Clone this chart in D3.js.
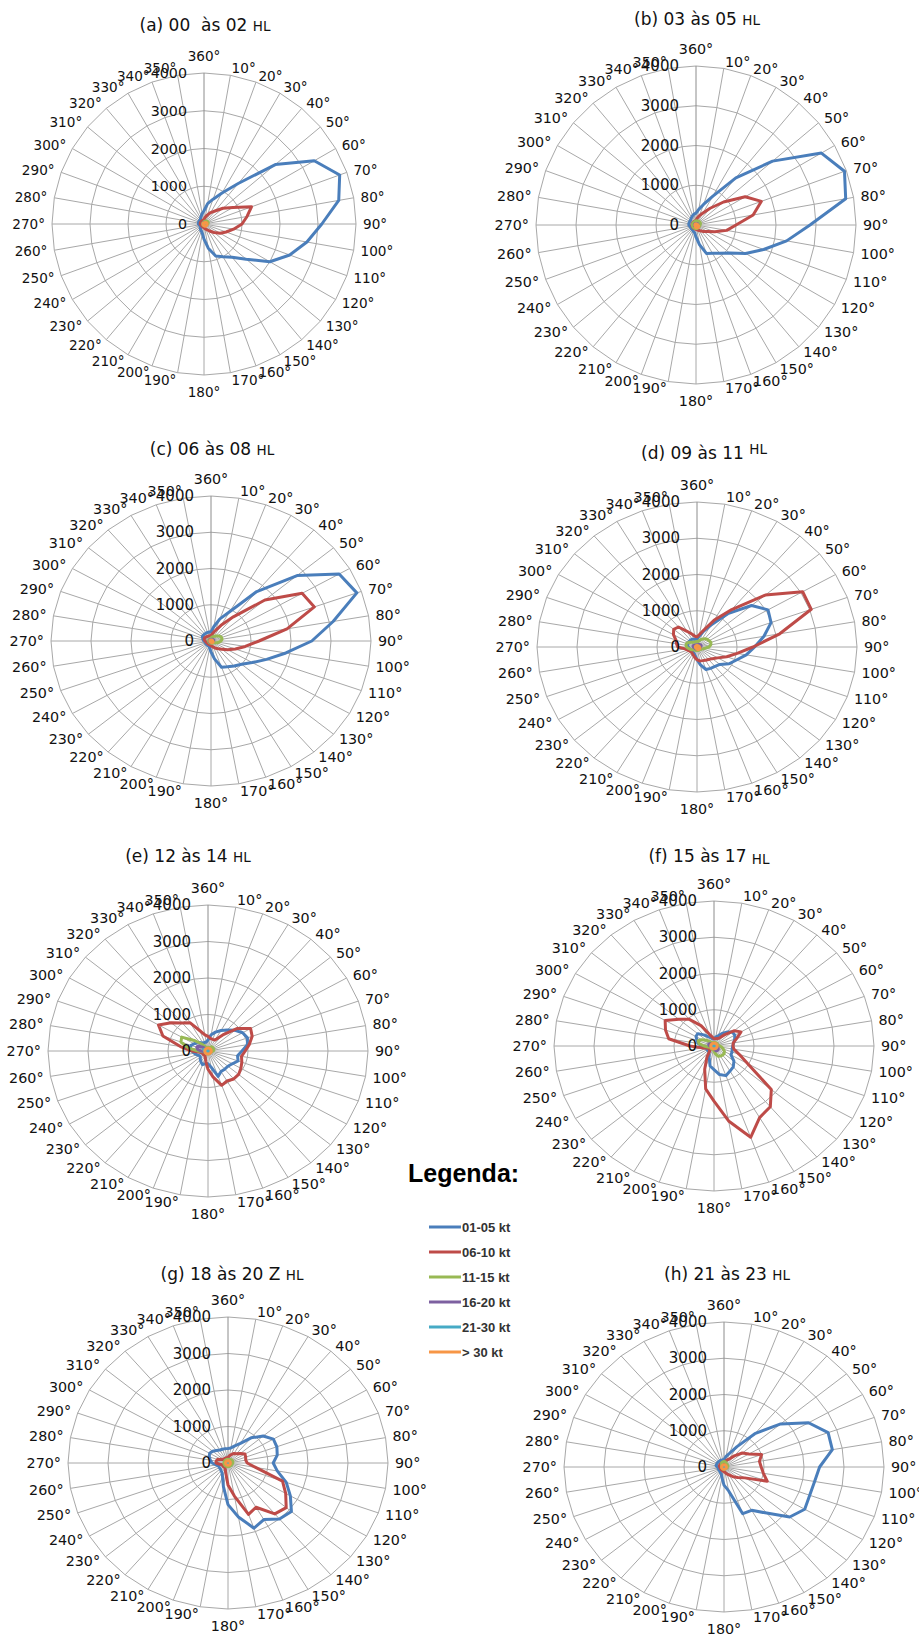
<!DOCTYPE html>
<html>
<head>
<meta charset="utf-8">
<script src="https://cdn.jsdelivr.net/npm/d3@7"></script>
<style>
  body { margin: 0; background: #fff; }
  svg text { font-family: "DejaVu Sans", Verdana, sans-serif; fill: #111; }
</style>
</head>
<body>
<svg id="chart"></svg>
<script>
//Categories, Ticks and Series Names
const directions = ["360°","10°","20°","30°","40°","50°","60°","70°","80°","90°","100°","110°",
  "120°","130°","140°","150°","160°","170°","180°","190°","200°","210°","220°","230°",
  "240°","250°","260°","270°","280°","290°","300°","310°","320°","330°","340°","350°"];
const radialTicks = [0, 1000, 2000, 3000, 4000];
const seriesNames = ["01-05 kt", "06-10 kt", "11-15 kt", "16-20 kt", "21-30 kt", "> 30 kt"];
const panelTitles = ["(a) 00\u00a0 às 02 ", "(b) 03 às 05 ", "(c) 06 às 08 ", "(d) 09 às 11 ",
  "(e) 12 às 14 ", "(f) 15 às 17 ", "(g) 18 às 20 Z ", "(h) 21 às 23 "];
const titleSuffix = "HL";

//Values per panel: [01-05, 06-10, 11-15, 16-20, 21-30, >30], one value per direction (360°, 10°, ... 350°)
const panelA = [
  [350,550,700,950,1400,2450,3350,3800,3600,3100,2750,2400,2000,1450,1150,1000,900,650,400,250,200,180,150,130,120,120,130,150,150,150,150,150,150,180,220,280],
  [120,180,250,350,450,650,880,1330,1150,1000,790,620,490,350,250,180,150,120,100,90,80,80,80,80,80,80,90,100,100,100,100,100,100,100,100,110],
  [60,70,80,90,100,110,120,120,110,100,80,60,50,40,40,40,40,40,40,40,40,40,40,40,40,40,40,40,40,40,40,40,40,40,40,50],
  [30,30,30,30,40,40,40,40,40,40,30,30,30,30,30,30,30,30,30,30,30,30,30,30,30,30,30,30,30,30,30,30,30,30,30,30],
  [20,20,20,20,20,30,30,30,30,30,20,20,20,20,20,20,20,20,20,20,20,20,20,20,20,20,20,20,20,20,20,20,20,20,20,20],
  [30,30,30,40,50,60,70,80,80,80,80,80,80,80,70,70,60,60,50,40,30,30,30,30,30,30,30,30,30,30,30,30,30,30,30,30]
];
const panelB = [
  [300,400,550,830,1550,2500,3620,3950,3800,2850,2300,1800,1430,1100,925,820,760,500,300,200,180,160,150,150,150,150,160,180,180,180,180,180,200,220,250,280],
  [120,180,250,350,550,900,1420,1740,1450,1000,780,500,330,250,200,160,140,120,110,100,100,100,100,100,100,100,100,100,100,100,100,100,100,100,100,110],
  [100,110,110,110,120,120,120,120,110,100,100,90,90,90,90,90,90,90,90,90,90,90,90,90,90,90,90,90,90,90,90,90,90,90,90,100],
  [40,40,40,40,50,50,50,50,50,40,40,40,40,40,40,40,40,40,40,40,40,40,40,40,40,40,40,40,40,40,40,40,40,40,40,40],
  [20,20,20,20,30,30,30,30,30,30,20,20,20,20,20,20,20,20,20,20,20,20,20,20,20,20,20,20,20,20,20,20,20,20,20,20],
  [30,30,30,30,30,30,40,40,40,50,60,70,80,80,80,80,80,70,70,60,50,40,30,30,30,30,30,30,30,30,30,30,30,30,30,30]
];
const panelC = [
  [250,400,650,930,1780,2810,3700,3880,3100,2520,1900,1480,1190,1000,900,820,770,500,300,200,150,150,150,150,150,150,150,180,200,220,250,250,250,250,250,250],
  [150,200,300,500,870,1760,2630,2750,1930,1200,870,650,480,350,280,230,180,150,130,120,110,110,110,110,110,120,130,150,170,180,180,170,160,150,150,150],
  [80,100,120,150,180,220,260,280,280,250,200,150,100,80,70,60,60,60,60,60,60,60,60,60,60,60,60,60,60,60,60,60,60,60,60,70],
  [40,40,50,50,60,60,70,70,70,60,50,40,40,40,40,40,40,40,40,40,40,40,40,40,40,40,40,40,40,40,40,40,40,40,40,40],
  [20,20,20,30,30,30,30,30,30,30,30,20,20,20,20,20,20,20,20,20,20,20,20,20,20,20,20,20,20,20,20,20,20,20,20,20],
  [30,30,30,30,30,40,40,40,40,40,50,60,60,60,60,50,50,40,40,30,30,30,30,30,30,30,30,30,30,30,30,30,30,30,30,30]
];
const panelD = [
  [220,300,450,700,1200,1780,2050,1970,1700,1440,1250,1050,925,750,700,680,660,500,350,250,200,180,170,170,170,180,200,220,250,250,250,250,250,250,230,220],
  [280,350,500,850,1350,2230,3050,3040,2100,1400,1020,790,600,500,450,420,400,390,350,300,250,220,200,200,220,250,300,480,520,560,680,760,720,500,380,300],
  [150,150,200,250,300,330,350,370,350,300,200,150,120,100,100,100,100,100,100,100,100,100,100,120,150,180,220,260,280,280,250,200,170,150,150,150],
  [60,60,70,80,90,100,110,110,100,90,80,70,60,60,60,60,60,60,60,60,60,60,60,60,60,70,80,90,100,100,90,80,70,60,60,60],
  [30,30,30,40,40,40,50,50,50,40,40,30,30,30,30,30,30,30,30,30,30,30,30,30,30,30,40,40,40,40,40,30,30,30,30,30],
  [40,40,40,40,40,40,50,50,60,60,70,80,80,80,80,80,70,70,60,50,40,40,40,40,40,40,40,40,40,40,40,40,40,40,40,40]
];
const panelE = [
  [300,450,550,650,750,880,1000,1050,1000,850,750,800,700,650,650,650,740,450,350,350,400,350,300,250,250,300,350,400,450,450,400,350,300,250,250,250],
  [400,350,340,350,575,960,1230,1175,1050,930,850,900,950,1000,1000,950,1000,720,500,300,200,150,150,150,150,150,200,400,700,1200,1430,1200,1000,890,590,450],
  [100,100,100,120,150,150,150,150,150,130,100,80,80,80,80,80,80,80,80,80,80,80,80,80,80,80,120,250,500,720,760,450,250,150,100,100],
  [40,40,40,40,40,50,50,50,50,40,40,40,40,40,40,40,40,40,40,40,40,40,40,40,40,60,100,180,260,300,280,150,80,50,40,40],
  [30,30,30,30,30,30,30,30,30,30,30,30,30,30,30,30,30,30,30,30,30,30,30,30,30,40,50,80,100,120,100,60,40,30,30,30],
  [80,80,80,80,80,80,80,80,80,80,80,80,80,80,80,80,80,80,80,80,80,80,80,80,80,80,80,80,80,80,80,80,80,80,80,80]
];
const panelF = [
  [200,250,300,400,500,600,600,550,500,470,460,480,490,650,750,800,870,800,650,560,350,250,200,200,200,200,250,300,400,450,520,530,400,300,250,200],
  [200,200,220,250,400,650,780,600,490,475,505,670,975,1870,2190,2280,2680,2100,1520,1200,680,350,150,150,150,150,300,600,1150,1290,1410,1145,960,650,350,250],
  [100,100,100,100,100,100,100,100,120,150,200,250,300,330,330,320,300,220,150,100,100,100,100,100,100,100,150,250,380,420,350,250,150,100,100,100],
  [40,40,40,40,40,40,40,40,50,60,80,100,120,140,150,150,140,100,60,40,40,40,40,40,40,40,60,100,130,140,130,100,60,40,40,40],
  [30,30,30,30,30,30,30,30,30,40,40,50,60,70,70,70,60,50,40,30,30,30,30,30,30,30,30,40,50,60,50,40,30,30,30,30],
  [80,80,80,80,80,80,80,80,80,80,80,80,80,80,80,80,80,80,80,80,80,80,80,80,80,80,80,80,80,80,80,80,80,80,80,80]
];
const panelG = [
  [400,420,500,620,900,1150,1310,1300,1250,1130,1250,1550,1800,2070,2000,1790,1900,1500,1140,660,400,300,270,250,250,250,300,400,450,500,530,500,450,410,400,400],
  [150,200,250,300,330,400,490,470,450,480,700,1450,1665,1900,1820,1400,1500,920,600,300,200,150,150,150,150,150,200,300,300,280,200,150,150,150,150,150],
  [100,100,100,110,120,130,130,130,120,120,110,110,100,100,100,100,100,100,100,100,100,100,100,100,100,100,100,100,100,100,100,100,100,100,100,100],
  [40,40,40,40,50,50,50,50,50,50,40,40,40,40,40,40,40,40,40,40,40,40,40,40,40,40,40,40,40,40,40,40,40,40,40,40],
  [20,20,20,20,20,20,20,20,20,20,20,20,20,20,20,20,20,20,20,20,20,20,20,20,20,20,20,20,20,20,20,20,20,20,20,20],
  [60,60,60,60,60,60,60,60,60,60,60,60,60,60,60,60,60,60,60,60,60,60,60,60,60,60,60,60,60,60,60,60,60,60,60,60]
];
const panelH = [
  [200,300,400,650,1200,1850,2440,2770,2750,2390,2300,2280,2330,2145,1660,1380,1370,670,500,300,200,180,160,150,150,150,150,170,200,200,200,200,200,200,200,200],
  [120,150,200,250,400,600,720,1000,900,930,1000,1150,600,450,350,250,200,150,130,120,110,100,100,100,100,100,100,110,120,120,120,120,120,120,120,120],
  [150,150,130,120,100,100,100,100,100,80,80,80,60,60,60,60,60,60,60,60,60,60,60,60,60,60,60,60,60,60,60,80,100,120,140,150],
  [40,40,40,40,40,40,40,40,40,40,40,40,40,40,40,40,40,40,40,40,40,40,40,40,40,40,40,40,40,40,40,40,40,40,40,40],
  [20,20,20,20,20,20,20,20,20,20,20,20,20,20,20,20,20,20,20,20,20,20,20,20,20,20,20,20,20,20,20,20,20,20,20,20],
  [60,60,60,60,60,60,60,60,60,60,60,60,60,60,60,60,60,60,60,60,60,60,60,60,60,60,60,60,60,60,60,60,60,60,60,60]
];
const panels = [panelA, panelB, panelC, panelD, panelE, panelF, panelG, panelH];

//Layout and Style (kept apart from the values)
const w = 919;
const h = 1637;
const colors = ["#4a7ebb", "#be4b48", "#98b954", "#7d60a0", "#46aac5", "#f79646"];
const panelLayout = [
  {cx: 204, cy: 224,  rx: 152, ry: 151, tx: 205, ty: 31,   hlDy: 0},
  {cx: 696, cy: 225,  rx: 160, ry: 159, tx: 697, ty: 25,   hlDy: 0},
  {cx: 211, cy: 641,  rx: 160, ry: 145, tx: 212, ty: 455,  hlDy: 0},
  {cx: 697, cy: 647,  rx: 160, ry: 145, tx: 704, ty: 459,  hlDy: -5},
  {cx: 208, cy: 1051, rx: 160, ry: 146, tx: 188, ty: 862,  hlDy: 0},
  {cx: 714, cy: 1046, rx: 160, ry: 145, tx: 709, ty: 862,  hlDy: 2},
  {cx: 228, cy: 1463, rx: 160, ry: 146, tx: 232, ty: 1280, hlDy: 0},
  {cx: 724, cy: 1467, rx: 160, ry: 145, tx: 727, ty: 1280, hlDy: 0}
];

const chart = d3.select("#chart")
  .attr("width", w)
  .attr("height", h);

const maxValue = d3.max(radialTicks);
const angle = d3.scaleLinear().domain([0, directions.length]).range([0, 2 * Math.PI]);

panels.forEach((panel, i) => {
  const L = panelLayout[i];
  const fs = L.rx / 160; //panel (a) is drawn a little smaller in the original
  const rX = d3.scaleLinear().domain([0, maxValue]).range([0, L.rx]);
  const rY = d3.scaleLinear().domain([0, maxValue]).range([0, L.ry]);
  const px = (k, v) => L.cx + rX(v) * Math.sin(angle(k));
  const py = (k, v) => L.cy - rY(v) * Math.cos(angle(k));
  const g = chart.append("g").attr("class", "radar");

  //Grid rings (polygons, as Excel draws them)
  const ringLine = d3.line().curve(d3.curveLinearClosed);
  g.selectAll(".ring")
    .data(radialTicks.filter(t => t > 0))
    .enter()
    .append("path")
    .attr("d", t => ringLine(directions.map((d, k) => [px(k, t), py(k, t)])))
    .attr("fill", "none")
    .attr("stroke", "#a8a8a8")
    .attr("stroke-width", 1);

  //Spokes
  g.selectAll(".spoke")
    .data(directions)
    .enter()
    .append("line")
    .attr("x1", L.cx).attr("y1", L.cy)
    .attr("x2", (d, k) => px(k, maxValue))
    .attr("y2", (d, k) => py(k, maxValue))
    .attr("stroke", (d, k) => k === 0 ? "#8c8c8c" : "#a8a8a8")
    .attr("stroke-width", 1);

  //Series
  const seriesLine = d3.line()
    .x((v, k) => px(k, v))
    .y((v, k) => py(k, v))
    .curve(d3.curveLinearClosed);
  g.selectAll(".series")
    .data(panel)
    .enter()
    .append("path")
    .attr("d", s => seriesLine(s))
    .attr("fill", "none")
    .attr("stroke", (s, j) => colors[j])
    .attr("stroke-width", 3)
    .attr("stroke-linejoin", "round");

  //Direction labels
  g.selectAll(".cat")
    .data(directions)
    .enter()
    .append("text")
    .attr("font-size", 14.3 * fs)
    .attr("dominant-baseline", "central")
    .attr("text-anchor", (d, k) => {
      const s = Math.sin(angle(k));
      return s > 0.01 ? "start" : (s < -0.01 ? "end" : "middle");
    })
    .attr("x", (d, k) => px(k, maxValue) + 7 * Math.sin(angle(k)))
    .attr("y", (d, k) => {
      const s = Math.sin(angle(k)), c = Math.cos(angle(k));
      if (Math.abs(s) <= 0.01) return py(k, maxValue) - 17 * c;
      return py(k, maxValue) - 7 * c;
    })
    .text(d => d);

  //Value axis labels
  g.selectAll(".val")
    .data(radialTicks)
    .enter()
    .append("text")
    .attr("font-size", 15 * fs)
    .attr("text-anchor", "end")
    .attr("dominant-baseline", "central")
    .attr("x", L.cx - 17)
    .attr("y", t => L.cy - rY(t))
    .text(t => t);

  //Title
  const title = chart.append("text")
    .attr("x", L.tx)
    .attr("y", L.ty)
    .attr("text-anchor", "middle")
    .attr("font-size", 17);
  title.append("tspan").text(panelTitles[i]);
  title.append("tspan").attr("font-size", 13.5).attr("dy", L.hlDy).text(titleSuffix);
});

//Legend
const legend = chart.append("g").attr("class", "legend");
legend.append("text")
  .attr("x", 408)
  .attr("y", 1182)
  .attr("font-size", 25)
  .attr("font-weight", "bold")
  .style("font-family", "'Liberation Sans', Arial, sans-serif")
  .style("fill", "#000")
  .text("Legenda:");

const legendY = d3.scaleLinear().domain([0, 1]).range([1227, 1252]);
const items = legend.selectAll(".item")
  .data(seriesNames)
  .enter()
  .append("g");
items.append("line")
  .attr("x1", 429).attr("x2", 461)
  .attr("y1", (d, j) => legendY(j))
  .attr("y2", (d, j) => legendY(j))
  .attr("stroke", (d, j) => colors[j])
  .attr("stroke-width", 3);
items.append("text")
  .attr("x", 462)
  .attr("y", (d, j) => legendY(j))
  .attr("dominant-baseline", "central")
  .attr("font-size", 13)
  .attr("font-weight", "bold")
  .style("font-family", "'Liberation Sans', Arial, sans-serif")
  .style("fill", "#333")
  .text(d => d);
</script>
</body>
</html>
